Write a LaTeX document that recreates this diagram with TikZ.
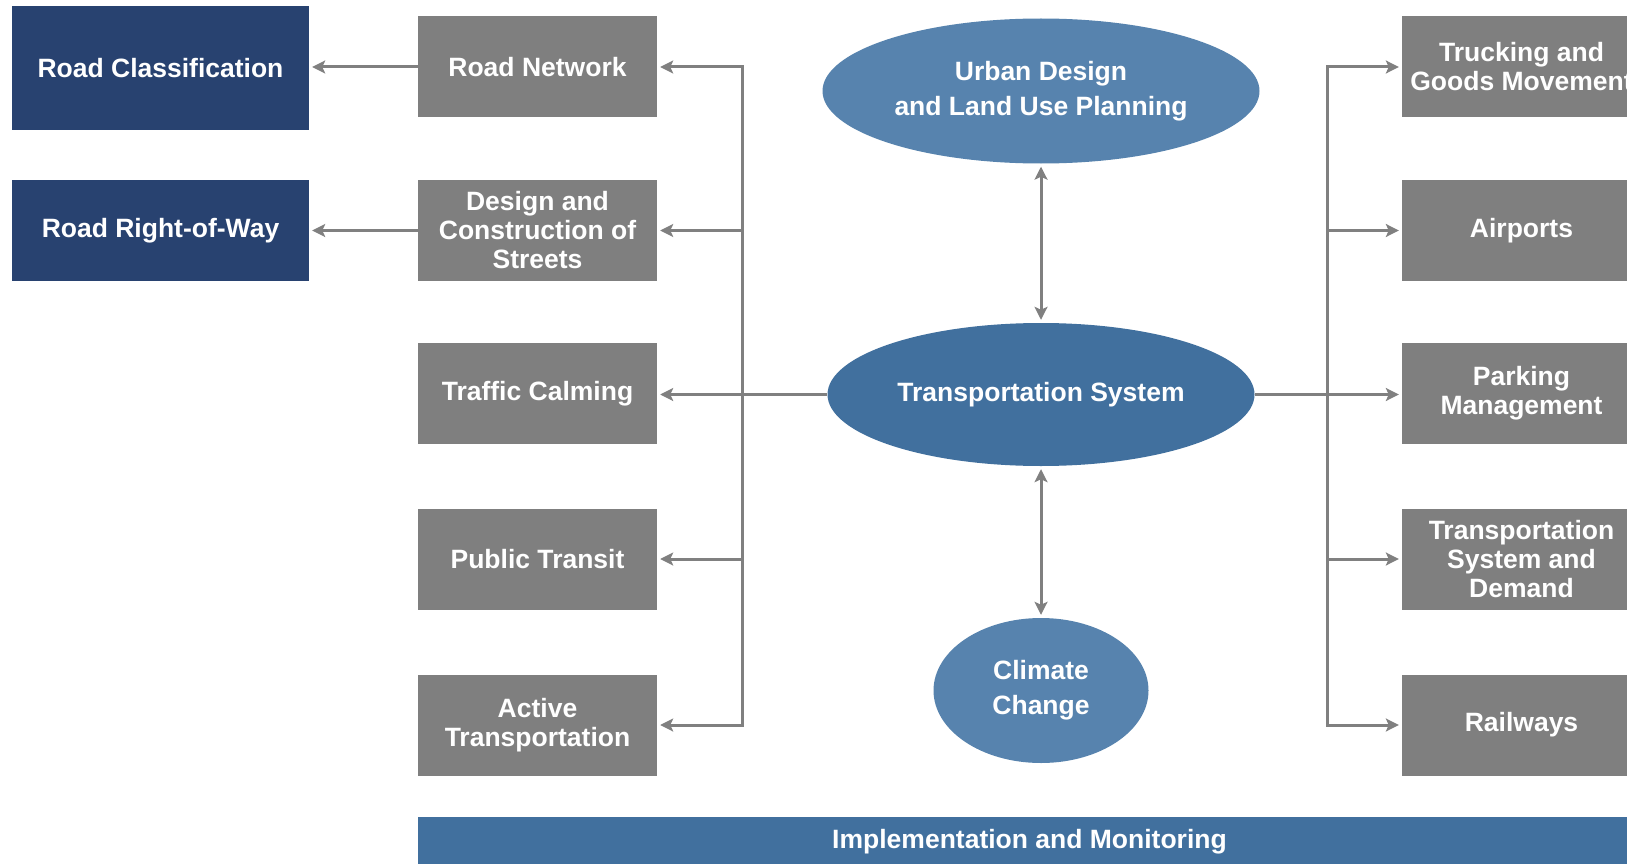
\documentclass[tikz,border=0pt]{standalone}
\usepackage{fontspec}
\setmainfont{Liberation Sans}
\usetikzlibrary{shapes.geometric,arrows.meta}
\definecolor{boxgray}{HTML}{7F7F7F}
\definecolor{navyblue}{HTML}{284270}
\definecolor{lightblue}{HTML}{5783AE}
\definecolor{midblue}{HTML}{41709E}
\definecolor{linegray}{HTML}{808080}
\newcommand{\bxfont}{\fontsize{26.5}{29}\selectfont\bfseries}
\newcommand{\elfont}{\fontsize{26.5}{35}\selectfont\bfseries}
\begin{document}
\begin{tikzpicture}[x=1pt,y=-1pt,
  graybox/.style={rectangle, fill=boxgray, minimum width=239pt, minimum height=101pt, inner sep=0pt, text=white, font=\bxfont, align=center},
  navybox/.style={rectangle, fill=navyblue, minimum width=297pt, minimum height=101pt, inner sep=0pt, text=white, font=\bxfont, align=center},
  ell/.style={ellipse, inner sep=0pt, text=white, font=\elfont, align=center},
  arr/.style={draw=linegray, line width=3pt, line join=miter, -{Stealth[length=13pt,width=13pt,inset=3pt]}, shorten >=3pt},
  dbl/.style={draw=linegray, line width=3pt, {Stealth[length=13pt,width=13pt,inset=3pt]}-{Stealth[length=13pt,width=13pt,inset=3pt]}, shorten >=3pt, shorten <=3pt}
]
\useasboundingbox (0,0) rectangle (1627,864);
\clip (0,0) rectangle (1627,864);
\fill[white] (0,0) rectangle (1627,864);

% left navy boxes
\node[navybox, minimum height=124pt] (RC) at (160.5,68) {Road Classification};
\node[navybox] (RW) at (160.5,230.5) {Road Right-of-Way};

% left gray boxes
\node[graybox] (RN) at (537.5,67) {Road Network};
\node[graybox] (DC) at (537.5,230.5) {Design and\\Construction of\\Streets};
\node[graybox] (TC) at (537.5,393.5) {Traffic Calming};
\node[graybox] (PT) at (537.5,559) {Public Transit};
\node[graybox] (AT) at (537.5,725) {Active\\Transportation};

% right gray boxes
\node[graybox] (TG) at (1521.5,67) {Trucking and\\Goods Movement};
\node[graybox] (AP) at (1521.5,230.5) {Airports};
\node[graybox] (PM) at (1521.5,393.5) {Parking\\Management};
\node[graybox] (TD) at (1521.5,559) {Transportation\\System and\\Demand};
\node[graybox] (RY) at (1521.5,725) {Railways};

% ellipses
\node[ell, fill=lightblue, minimum width=437pt, minimum height=145pt] (UD) at (1041,91) {Urban Design\\and Land Use Planning};
\node[ell, fill=midblue, minimum width=427pt, minimum height=143pt] (TS) at (1041,394.5) {Transportation System};
\node[ell, fill=lightblue, minimum width=215pt, minimum height=145pt] (CC) at (1041,690.5) {Climate\\Change};

% bottom bar
\node[rectangle, fill=midblue, minimum width=1223pt, minimum height=50pt, inner sep=0pt, text=white, font=\bxfont] (IM) at (1029.5,842) {Implementation and Monitoring};

% bus coordinates
\coordinate (busL) at (742,394);
\coordinate (busR) at (1327,394);

% left connectors
\draw[arr] (RN.west) -- (RN.west -| RC.east);
\draw[arr] (DC.west) -- (DC.west -| RW.east);
\draw[arr] (busL |- AT.east) -- (busL |- RN.east) -- (RN.east);
\draw[arr] (busL |- RN.east) -- (busL |- AT.east) -- (AT.east);
\draw[arr] (busL |- DC.east) -- (DC.east);
\draw[arr] (busL |- PT.east) -- (PT.east);
\draw[arr] (TS.west) -- (TS.west -| TC.east);

% right connectors
\draw[arr] (busR |- RY.west) -- (busR |- TG.west) -- (TG.west);
\draw[arr] (busR |- TG.west) -- (busR |- RY.west) -- (RY.west);
\draw[arr] (busR |- AP.west) -- (AP.west);
\draw[arr] (busR |- TD.west) -- (TD.west);
\draw[arr] (TS.east) -- (TS.east -| PM.west);

% vertical double arrows
\draw[dbl] (UD.south) -- (TS.north);
\draw[dbl] (TS.south) -- (CC.north);
\end{tikzpicture}
\end{document}
